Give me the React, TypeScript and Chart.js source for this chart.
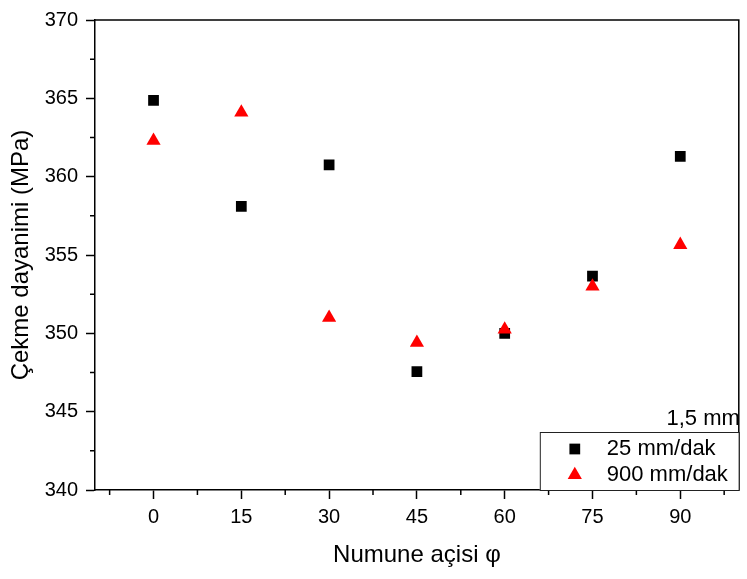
import React, { useEffect, useRef } from 'react';
import { Chart, registerables } from 'chart.js';

Chart.register(...registerables);

const angles = [0, 15, 30, 45, 60, 75, 90];
const series25 = [364.87, 358.1, 360.75, 347.55, 350.0, 353.65, 361.3];
const series900 = [362.3, 364.1, 351.0, 349.4, 350.25, 353.0, 355.65];
const seriesLabels = ['25 mm/dak', '900 mm/dak'];
const xTickValues = [0, 15, 30, 45, 60, 75, 90];
const xMinorTicks = [-7.5, 7.5, 22.5, 37.5, 52.5, 67.5, 82.5, 97.5];
const yTickValues = [340, 345, 350, 355, 360, 365, 370];
const yMinorTicks = [342.5, 347.5, 352.5, 357.5, 362.5, 367.5];
const xTitle = 'Numune açisi φ';
const yTitle = 'Çekme dayanimi (MPa)';
const noteText = '1,5 mm';

const FONT = "'Liberation Sans', Arial, sans-serif";

const framePlugin = {
  id: 'frameAndLegend',
  afterDraw(chart: any) {
    const { ctx, chartArea: a, scales } = chart;
    const xs = scales.x;
    const ys = scales.y;
    ctx.save();
    ctx.strokeStyle = '#000';
    ctx.lineWidth = 1.5;
    ctx.beginPath();
    ctx.moveTo(a.left, a.top);
    ctx.lineTo(a.right, a.top);
    ctx.lineTo(a.right, a.bottom);
    ctx.stroke();

    ctx.beginPath();
    xMinorTicks.forEach((v) => {
      const px = xs.getPixelForValue(v);
      ctx.moveTo(px, a.bottom);
      ctx.lineTo(px, a.bottom + 5);
    });
    yMinorTicks.forEach((v) => {
      const py = ys.getPixelForValue(v);
      ctx.moveTo(a.left, py);
      ctx.lineTo(a.left - 5, py);
    });
    ctx.stroke();

    // legend box
    const bw = 199;
    const bh = 58;
    const bl = a.right - bw;
    const bt = a.bottom - bh;
    ctx.fillStyle = '#fff';
    ctx.fillRect(bl, bt, bw, bh);
    ctx.strokeStyle = '#222';
    ctx.lineWidth = 1;
    ctx.strokeRect(bl + 0.5, bt + 0.5, bw, bh);

    const rows = [bt + 17, bt + 43];
    chart.data.datasets.forEach((ds: any, i: number) => {
      const cx = bl + 35;
      const cy = rows[i];
      ctx.fillStyle = ds.backgroundColor;
      const r = ds.pointRadius;
      if (ds.pointStyle === 'rect') {
        const s = Math.SQRT1_2 * r;
        ctx.fillRect(cx - s, cy - s, 2 * s, 2 * s);
      } else {
        ctx.beginPath();
        ctx.moveTo(cx, cy - r);
        ctx.lineTo(cx + r * Math.sin(Math.PI / 3), cy + r / 2);
        ctx.lineTo(cx - r * Math.sin(Math.PI / 3), cy + r / 2);
        ctx.closePath();
        ctx.fill();
      }
      ctx.fillStyle = '#000';
      ctx.font = `22px ${FONT}`;
      ctx.textAlign = 'left';
      ctx.textBaseline = 'middle';
      ctx.fillText(ds.label, bl + 67, cy);
    });

    ctx.font = `22px ${FONT}`;
    ctx.textAlign = 'right';
    ctx.textBaseline = 'middle';
    ctx.fillStyle = '#000';
    ctx.fillText(noteText, a.right + 1, bt - 13);
    ctx.restore();
  },
};

export default function App() {
  const ref = useRef<HTMLCanvasElement | null>(null);

  useEffect(() => {
    if (!ref.current) return;
    const chart = new Chart(ref.current, {
      type: 'scatter',
      data: {
        datasets: [
          {
            label: seriesLabels[0],
            data: angles.map((x, i) => ({ x, y: series25[i] })),
            pointStyle: 'rect',
            pointRadius: 7.6,
            pointHoverRadius: 7.6,
            backgroundColor: '#000000',
            borderColor: '#000000',
            pointBorderWidth: 0,
            showLine: false,
            order: 1,
          } as any,
          {
            label: seriesLabels[1],
            data: angles.map((x, i) => ({ x, y: series900[i] })),
            pointStyle: 'triangle',
            pointRadius: 8.2,
            pointHoverRadius: 8.2,
            backgroundColor: '#ff0000',
            borderColor: '#ff0000',
            pointBorderWidth: 0,
            showLine: false,
            order: 0,
          } as any,
        ],
      },
      options: {
        animation: false,
        responsive: false,
        maintainAspectRatio: false,
        layout: { padding: { top: 12, right: 3, left: 0, bottom: 0 } },
        plugins: {
          legend: { display: false },
          tooltip: { enabled: false },
        },
        scales: {
          x: {
            type: 'linear',
            min: -10,
            max: 100,
            afterBuildTicks: (s: any) => {
              s.ticks = xTickValues.map((v) => ({ value: v }));
            },
            afterFit: (s: any) => {
              s.height = 89;
            },
            ticks: {
              color: '#000',
              font: { family: FONT, size: 20 },
              padding: 6,
              autoSkip: false,
              maxRotation: 0,
            },
            grid: {
              display: true,
              drawOnChartArea: false,
              drawTicks: true,
              tickLength: 9,
              tickColor: '#000',
              tickWidth: 1.5,
            },
            border: { display: true, color: '#000', width: 1.5 },
            title: {
              display: true,
              text: xTitle,
              color: '#000',
              font: { family: FONT, size: 24 },
              padding: { top: 0, bottom: 9 },
            },
          },
          y: {
            type: 'linear',
            min: 340,
            max: 370,
            afterBuildTicks: (s: any) => {
              s.ticks = yTickValues.map((v) => ({ value: v }));
            },
            afterFit: (s: any) => {
              s.width = 95;
            },
            ticks: {
              color: '#000',
              font: { family: FONT, size: 20 },
              padding: 8,
              autoSkip: false,
            },
            grid: {
              display: true,
              drawOnChartArea: false,
              drawTicks: true,
              tickLength: 9,
              tickColor: '#000',
              tickWidth: 1.5,
            },
            border: { display: true, color: '#000', width: 1.5 },
            title: {
              display: true,
              text: yTitle,
              color: '#000',
              font: { family: FONT, size: 24 },
              padding: { top: 7, bottom: 0 },
            },
          },
        },
      } as any,
      plugins: [framePlugin],
    });
    return () => chart.destroy();
  }, []);

  return (
    <div style={{ position: 'absolute', left: 0, top: 0, width: 747, height: 579, background: '#fff' }}>
      <canvas ref={ref} width={747} height={579} style={{ display: 'block' }} />
    </div>
  );
}
